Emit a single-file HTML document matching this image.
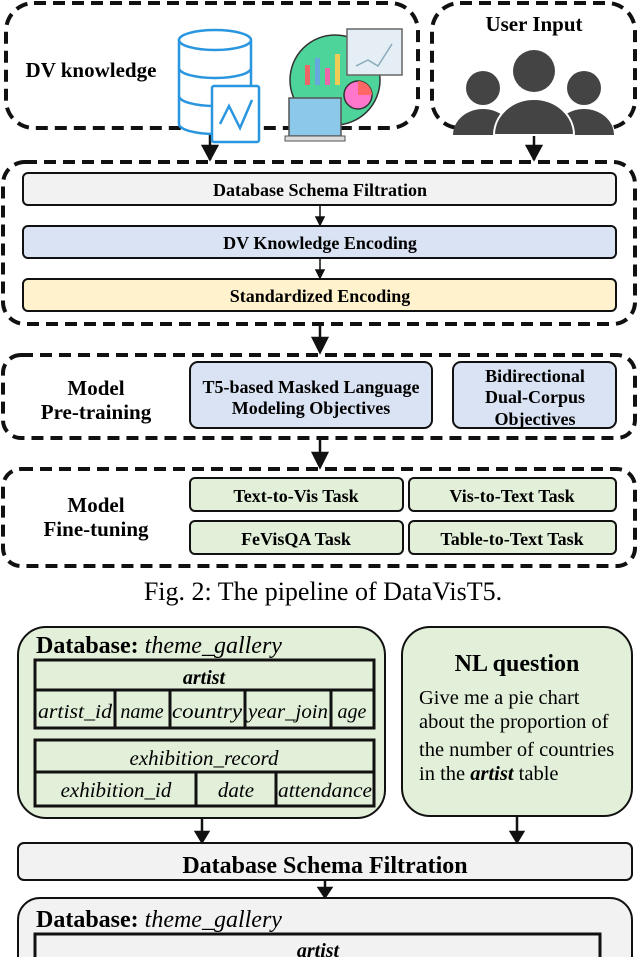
<!DOCTYPE html>
<html><head><meta charset="utf-8"><style>
html,body{margin:0;padding:0;background:#fff}
svg, svg text{font-family:"Liberation Serif","Times New Roman",Times,serif}
.b{font-weight:bold}
</style></head><body>
<svg width="640" height="957" viewBox="0 0 640 957" xmlns="http://www.w3.org/2000/svg" font-family="Liberation Serif, Times New Roman, serif">
<g fill="none" stroke="#111" stroke-width="4" stroke-dasharray="12,7">
<rect x="6" y="3" width="412" height="125" rx="28"/>
<rect x="432" y="3" width="203" height="125" rx="28"/>
<rect x="3" y="162" width="632" height="162" rx="22"/>
<rect x="3" y="355" width="632" height="83" rx="18"/>
<rect x="3" y="469" width="632" height="97" rx="18"/>
</g>
<g stroke="#111" stroke-width="2.5">
<line x1="210" y1="128" x2="210" y2="160"/><path d="M203,146 L217,146 L210,159z" fill="#111"/>
<line x1="534" y1="128" x2="534" y2="160"/><path d="M527,146 L541,146 L534,159z" fill="#111"/>
<line x1="320" y1="324" x2="320" y2="352"/><path d="M313,338 L327,338 L320,352z" fill="#111"/>
<line x1="320" y1="438" x2="320" y2="467"/><path d="M313,453 L327,453 L320,467z" fill="#111"/>
</g>
<g stroke="#111" stroke-width="1.5">
<line x1="320" y1="205" x2="320" y2="225"/><path d="M316,217 L324,217 L320,225z" fill="#111"/>
<line x1="320" y1="258" x2="320" y2="278"/><path d="M316,270 L324,270 L320,278z" fill="#111"/>
</g>
<text x="91" y="77" font-size="21" class="b" text-anchor="middle">DV knowledge</text>
<text x="534" y="31" font-size="21" class="b" text-anchor="middle">User Input</text>
<g fill="#fff" stroke="#2a96e0" stroke-width="2.5">
<path d="M179,40 v84 a36,10 0 0 0 72,0 v-84"/>
<ellipse cx="215" cy="40" rx="36" ry="10"/>
<path d="M179,68 a36,10 0 0 0 72,0 M179,96 a36,10 0 0 0 72,0"/>
<rect x="212" y="86" width="47" height="56" rx="2"/>
<polyline points="220,124 229,106 240,128 252,100" fill="none"/>
</g>
<circle cx="335" cy="80" r="45" fill="#4dd49a" stroke="#333" stroke-width="1.5"/>
<rect x="347" y="29" width="55" height="46" fill="#e4eef4" stroke="#666" stroke-width="1.5"/>
<polyline points="356,66 368,60 378,66 392,44" fill="none" stroke="#8ab" stroke-width="1.5"/>
<rect x="305" y="65" width="5" height="20" fill="#e66"/><rect x="315" y="58" width="5" height="27" fill="#6ad"/><rect x="325" y="68" width="5" height="17" fill="#e6a"/><rect x="335" y="54" width="5" height="31" fill="#ec5"/>
<circle cx="358" cy="95" r="14" fill="#f7c" stroke="#333" stroke-width="1.5"/><path d="M358,95 L358,81 A14,14 0 0 1 372,95z" fill="#f66"/>
<rect x="289" y="98" width="52" height="38" fill="#8cc8ea" stroke="#555" stroke-width="1.5"/>
<rect x="285" y="136" width="60" height="5" fill="#ddd" stroke="#555" stroke-width="1"/>
<g fill="#444">
<circle cx="483" cy="88" r="17"/><path d="M453,135 a30,26 0 0 1 60,0z"/>
<circle cx="584" cy="88" r="17"/><path d="M554,135 a30,26 0 0 1 60,0z"/>
<circle cx="534" cy="71" r="21"/><path d="M494,135 a40,36 0 0 1 80,0z" stroke="#fff" stroke-width="2"/>
</g>
<g stroke="#111" stroke-width="2">
<rect x="23" y="173" width="593" height="32" rx="5" fill="#f2f2f2"/>
<rect x="23" y="226" width="593" height="32" rx="5" fill="#dae3f3"/>
<rect x="23" y="279" width="593" height="32" rx="5" fill="#fff2cc"/>
<rect x="190" y="362" width="242" height="66" rx="8" fill="#dae3f3"/>
<rect x="453" y="362" width="163" height="66" rx="8" fill="#dae3f3"/>
<rect x="190" y="478" width="213" height="33" rx="5" fill="#e2efd9"/>
<rect x="409" y="478" width="207" height="33" rx="5" fill="#e2efd9"/>
<rect x="190" y="521" width="213" height="33" rx="5" fill="#e2efd9"/>
<rect x="409" y="521" width="207" height="33" rx="5" fill="#e2efd9"/>
</g>
<g class="b" font-size="18" text-anchor="middle">
<text x="320" y="196">Database Schema Filtration</text>
<text x="320" y="249">DV Knowledge  Encoding</text>
<text x="320" y="302">Standardized  Encoding</text>
<text x="96" y="395" font-size="21">Model</text><text x="96" y="419" font-size="21">Pre-training</text>
<text x="96" y="512" font-size="21">Model</text><text x="96" y="536" font-size="21">Fine-tuning</text>
<text x="311" y="393">T5-based Masked Language</text><text x="311" y="414">Modeling Objectives</text>
<text x="535" y="382">Bidirectional</text><text x="535" y="403">Dual-Corpus</text><text x="535" y="425">Objectives</text>
<text x="296" y="502">Text-to-Vis Task</text><text x="512" y="502">Vis-to-Text Task</text>
<text x="296" y="545">FeVisQA Task</text><text x="512" y="545">Table-to-Text Task</text>
</g>
<text x="323" y="600" font-size="26" text-anchor="middle">Fig. 2: The pipeline of DataVisT5.</text>
<g stroke="#111" stroke-width="2">
<rect x="18" y="627" width="367" height="191" rx="28" fill="#e2efd9"/>
<rect x="402" y="627" width="230" height="189" rx="28" fill="#e2efd9"/>
<rect x="18" y="843" width="614" height="37" rx="6" fill="#f2f2f2"/>
<rect x="18" y="898" width="614" height="80" rx="22" fill="#f2f2f2"/>
</g>
<g stroke="#111" stroke-width="3" fill="none">
<rect x="35" y="660" width="339" height="68"/><line x1="35" y1="690" x2="374" y2="690"/>
<line x1="115" y1="690" x2="115" y2="728"/><line x1="170" y1="690" x2="170" y2="728"/><line x1="245" y1="690" x2="245" y2="728"/><line x1="331" y1="690" x2="331" y2="728"/>
<rect x="35" y="740" width="339" height="66"/><line x1="35" y1="772" x2="374" y2="772"/>
<line x1="196" y1="772" x2="196" y2="806"/><line x1="276" y1="772" x2="276" y2="806"/>
<rect x="35" y="934" width="565" height="40"/>
</g>
<g stroke="#111" stroke-width="2.5">
<line x1="202" y1="818" x2="202" y2="842"/><path d="M196,832 L208,832 L202,842z" fill="#111"/>
<line x1="517" y1="816" x2="517" y2="842"/><path d="M511,832 L523,832 L517,842z" fill="#111"/>
<line x1="325" y1="880" x2="325" y2="897"/><path d="M319,888 L331,888 L325,897z" fill="#111"/>
</g>
<g font-size="24">
<text x="36" y="653"><tspan class="b">Database:</tspan> <tspan font-style="italic">theme_gallery</tspan></text>
<text x="36" y="927"><tspan class="b">Database:</tspan> <tspan font-style="italic">theme_gallery</tspan></text>
<text x="517" y="671" class="b" text-anchor="middle">NL question</text>
<g font-size="20.5"><text x="419" y="704">Give me a pie chart</text><text x="419" y="728">about the proportion of</text><text x="419" y="756">the number of countries</text><text x="419" y="780">in the <tspan class="b" font-style="italic">artist</tspan> table</text></g>
<text x="325" y="873" class="b" text-anchor="middle">Database Schema Filtration</text>
<g font-style="italic" text-anchor="middle" font-size="20">
<text x="204" y="684" class="b">artist</text>
<text x="75" y="718" textLength="74" lengthAdjust="spacingAndGlyphs">artist_id</text><text x="142" y="718">name</text><text x="207" y="718" textLength="70" lengthAdjust="spacingAndGlyphs">country</text><text x="288" y="718" textLength="80" lengthAdjust="spacingAndGlyphs">year_join</text><text x="352" y="718">age</text>
<text x="204" y="765" font-size="21">exhibition_record</text>
<text x="116" y="797" font-size="21">exhibition_id</text><text x="236" y="797" font-size="21">date</text><text x="325" y="797" textLength="94" lengthAdjust="spacingAndGlyphs">attendance</text>
<text x="318" y="957" class="b">artist</text>
</g>
</g>
</svg>
</body></html>
